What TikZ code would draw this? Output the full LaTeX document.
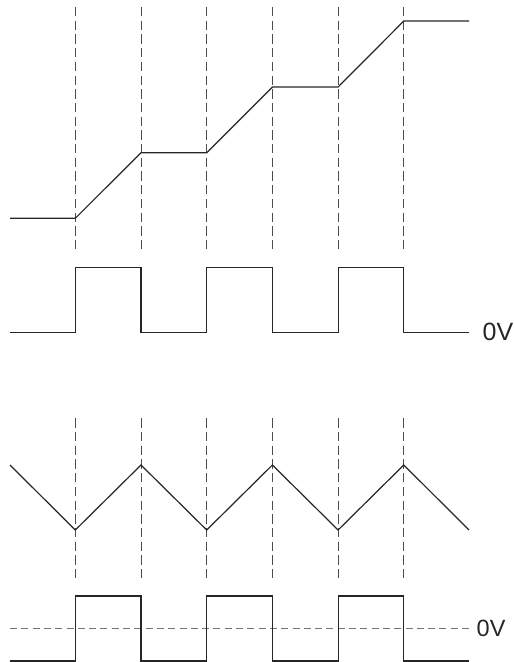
\documentclass[tikz,border=0pt]{standalone}
\usepackage{fontspec}
\setmainfont{Liberation Sans}
\begin{document}
\begin{tikzpicture}[x=1pt,y=-1pt,
  wave/.style={line width=1.2pt, black!85, line join=miter},
  guide/.style={line width=1pt, black!70, dash pattern=on 9.3pt off 4.4pt},
  zeroline/.style={line width=1pt, black!55, dash pattern=on 7pt off 4.3pt},
  lbl/.style={inner sep=0pt, anchor=west, text=black!85}]
\useasboundingbox (0,0) rectangle (514,662);
% vertical guides
\foreach \x in {75.3,141,206.7,272.4,338.1,403.8}{
  \draw[guide] (\x,7) -- (\x,250);
  \draw[guide] (\x,418.3) -- (\x,579);
}
% staircase ramp
\draw[wave] (10,218.3) -- (75.3,218.3) -- (141,152.7) -- (206.7,152.7) -- (272.4,87) -- (338.1,87) -- (403.8,21) -- (469,21);
% square wave 1
\draw[wave] (10,332.3) -- (75.3,332.3) -- (75.3,267.3) -- (141,267.3) -- (141,332.3) -- (206.7,332.3) -- (206.7,267.3) -- (272.4,267.3) -- (272.4,332.3) -- (338.1,332.3) -- (338.1,267.3) -- (403.8,267.3) -- (403.8,332.3) -- (469,332.3) coordinate (e1);
\node[lbl, font=\fontsize{25}{28}\selectfont] (l1) at (482.5,332) {0V};
% triangle wave
\draw[wave] (10,465) -- (75.3,530) -- (141,465) -- (206.7,530) -- (272.4,465) -- (338.1,530) -- (403.8,465) -- (469,530);
% zero line
\draw[zeroline] (10,628.7) -- (470,628.7) coordinate (e2);
% square wave 2
\draw[wave] (10,661) -- (75.3,661) -- (75.3,596) -- (141,596) -- (141,661) -- (206.7,661) -- (206.7,596) -- (272.4,596) -- (272.4,661) -- (338.1,661) -- (338.1,596) -- (403.8,596) -- (403.8,661) -- (469,661);
\node[lbl, font=\fontsize{23.5}{26}\selectfont] (l2) at (476.5,628) {0V};
\end{tikzpicture}
\end{document}
